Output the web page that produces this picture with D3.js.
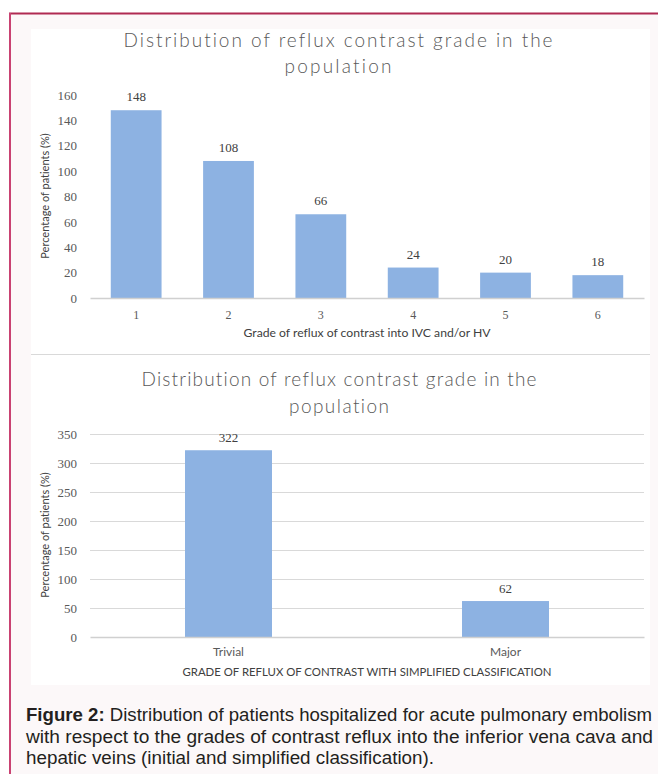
<!DOCTYPE html>
<html>
<head>
<meta charset="utf-8">
<script src="https://cdn.jsdelivr.net/npm/d3@7"></script>
<style>
  html, body { margin: 0; padding: 0; background: #ffffff; }
  svg { display: block; }
  text { font-variant-ligatures: none; font-feature-settings: "liga" 0; }
</style>
</head>
<body>
<svg id="fig" width="658" height="774"></svg>
<script>
// ---- data ----
const gradeCategories = ["1", "2", "3", "4", "5", "6"];
const gradeValues = [148, 108, 66, 24, 20, 18];
const gradeTicks = [0, 20, 40, 60, 80, 100, 120, 140, 160];

const simpleCategories = ["Trivial", "Major"];
const simpleValues = [322, 62];
const simpleTicks = [0, 50, 100, 150, 200, 250, 300, 350];

const chartTitleLines = ["Distribution of reflux contrast grade in the", "population"];
const yTitle = "Percentage of patients (%)";
const gradeXTitle = "Grade of reflux of contrast into IVC and/or HV";
const simpleXTitle = "GRADE OF REFLUX OF CONTRAST WITH SIMPLIFIED CLASSIFICATION";

const captionBold = "Figure 2:";
const captionLines = [
  " Distribution of patients hospitalized for acute pulmonary embolism",
  "with respect to the grades of contrast reflux into the inferior vena cava and",
  "hepatic veins (initial and simplified classification)."
];

// ---- styles ----
const BAR = "#8db2e2";
const SANS = "Lato, 'Open Sans', sans-serif";
const SERIF = "'Liberation Serif', 'DejaVu Serif', serif";

const svg = d3.select("#fig");

// frame with coloured border
svg.append("rect").attr("x", 10).attr("y", 13).attr("width", 660).attr("height", 770)
  .attr("fill", "#fcf8f9");
svg.append("line").attr("x1", 9).attr("x2", 658).attr("y1", 13.5).attr("y2", 13.5)
  .attr("stroke", "#b02a52").attr("stroke-width", 2);
svg.append("line").attr("x1", 10).attr("x2", 10).attr("y1", 13).attr("y2", 774)
  .attr("stroke", "#c94272").attr("stroke-width", 2);

// white chart panel
svg.append("rect").attr("x", 31).attr("y", 29).attr("width", 619).attr("height", 656)
  .attr("fill", "#ffffff");
svg.append("line").attr("x1", 31).attr("x2", 650).attr("y1", 354.5).attr("y2", 354.5)
  .attr("stroke", "#d9d9d9").attr("stroke-width", 1);

function drawChart(cfg) {
  const g = svg.append("g");

  // title
  cfg.titleBaselines.forEach((yb, i) => {
    g.append("text")
      .attr("x", cfg.titleX).attr("y", yb)
      .attr("text-anchor", "middle")
      .attr("font-family", SANS).attr("font-weight", 300)
      .attr("font-size", 19).attr("fill", "#595959")
      .attr("textLength", cfg.titleWidths[i]).attr("lengthAdjust", "spacing")
      .text(chartTitleLines[i]);
  });

  const x = d3.scaleBand().domain(cfg.categories).range([90, 644])
    .paddingInner(cfg.padInner).paddingOuter(cfg.padInner / 2);
  const y = d3.scaleLinear().domain([0, cfg.ticks[cfg.ticks.length - 1]]).range(cfg.yRange);

  // gridlines
  if (cfg.grid) {
    g.append("g").selectAll("line").data(cfg.ticks.filter(t => t > 0)).join("line")
      .attr("x1", 90).attr("x2", 644)
      .attr("y1", d => Math.round(y(d)) + 0.5).attr("y2", d => Math.round(y(d)) + 0.5)
      .attr("stroke", "#d9d9d9").attr("stroke-width", 1.2);
  }

  // y axis labels
  const yAxis = g.append("g").attr("transform", "translate(90,0)")
    .call(d3.axisLeft(y).tickValues(cfg.ticks).tickSize(0).tickPadding(13));
  yAxis.select(".domain").remove();
  yAxis.selectAll("text").attr("font-family", SERIF).attr("font-size", 13)
    .attr("fill", "#595959");

  // bars
  g.append("g").selectAll("rect").data(cfg.values).join("rect")
    .attr("x", (d, i) => x(cfg.categories[i]))
    .attr("width", x.bandwidth())
    .attr("y", d => y(d))
    .attr("height", d => y(0) - y(d))
    .attr("fill", BAR);

  // value labels
  g.append("g").selectAll("text").data(cfg.values).join("text")
    .attr("x", (d, i) => x(cfg.categories[i]) + x.bandwidth() / 2)
    .attr("y", d => y(d) - cfg.labelGap)
    .attr("text-anchor", "middle")
    .attr("font-family", SERIF).attr("font-size", 13).attr("fill", "#404040")
    .text(d => d);

  // x axis
  const xAxis = g.append("g").attr("transform", `translate(0,${y(0)})`)
    .call(d3.axisBottom(x).tickSize(0).tickPadding(cfg.xTickPad));
  xAxis.select(".domain").attr("stroke", "#d0d0d0").attr("stroke-width", 1.3);
  xAxis.selectAll("text").attr("font-family", cfg.xTickFont).attr("font-size", 12)
    .attr("fill", "#595959");

  // axis titles
  g.append("text")
    .attr("x", 367).attr("y", cfg.xTitleY)
    .attr("text-anchor", "middle")
    .attr("font-family", SANS).attr("font-size", 11).attr("fill", "#404040")
    .attr("textLength", cfg.xTitleWidth).attr("lengthAdjust", "spacingAndGlyphs")
    .text(cfg.xTitle);

  g.append("text")
    .attr("transform", `translate(49,${cfg.yTitleCenter}) rotate(-90)`)
    .attr("text-anchor", "middle")
    .attr("font-family", SANS).attr("font-size", 11).attr("fill", "#404040")
    .text(yTitle);
}

drawChart({
  categories: gradeCategories, values: gradeValues, ticks: gradeTicks,
  yRange: [298, 95], padInner: 0.45, grid: false, labelGap: 9,
  titleX: 338, titleBaselines: [47, 73], titleWidths: [429, 107],
  xTickPad: 12, xTickFont: SERIF,
  xTitle: gradeXTitle, xTitleY: 337, xTitleWidth: 247, yTitleCenter: 196
});

drawChart({
  categories: simpleCategories, values: simpleValues, ticks: simpleTicks,
  yRange: [637, 434], padInner: 0.686, grid: true, labelGap: 8,
  titleX: 339, titleBaselines: [386, 413], titleWidths: [395, 100],
  xTickPad: 10, xTickFont: SANS,
  xTitle: simpleXTitle, xTitleY: 676, xTitleWidth: 369, yTitleCenter: 535
});

// caption
const cap = svg.append("g")
  .attr("font-family", "'Liberation Sans', Arial, sans-serif")
  .attr("font-size", 17.5).attr("fill", "#231f20");
const capBaselines = [721, 743, 764];
const capWidths = [626, 627, 408];
captionLines.forEach((line, i) => {
  const t = cap.append("text").attr("x", 26).attr("y", capBaselines[i])
    .attr("textLength", capWidths[i]).attr("lengthAdjust", "spacingAndGlyphs");
  if (i === 0) t.append("tspan").attr("font-weight", "bold").text(captionBold);
  t.append("tspan").text(line);
});
</script>
</body>
</html>
